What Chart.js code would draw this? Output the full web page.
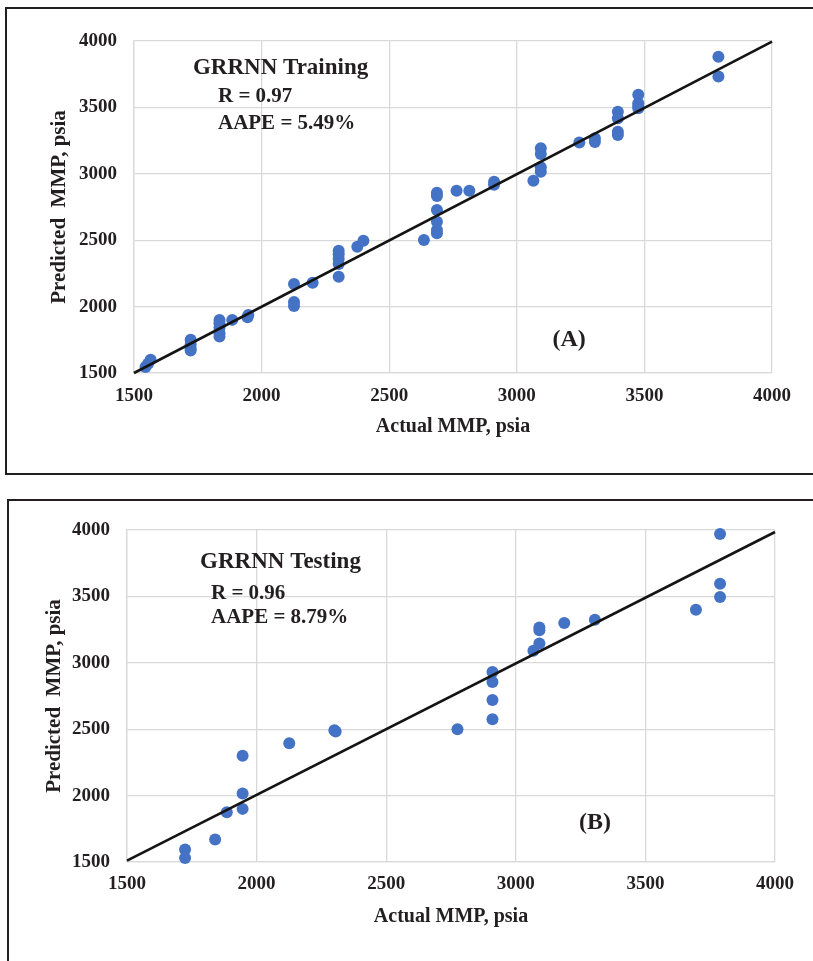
<!DOCTYPE html>
<html>
<head>
<meta charset="utf-8">
<script src="https://cdn.jsdelivr.net/npm/chart.js@4.4.1/dist/chart.umd.min.js"></script>
<style>
  html, body { margin: 0; padding: 0; background: #fff; }
  body { width: 813px; height: 961px; position: relative; overflow: hidden; }
  .frame { position: absolute; border: 2px solid #231f20; box-sizing: border-box; }
  .plot { position: absolute; left: 0; }
</style>
</head>
<body>
<div class="frame" style="left:5px; top:7px; width:820px; height:468px;"></div>
<div class="frame" style="left:7px; top:499px; width:820px; height:480px;"></div>
<canvas id="trainChart" class="plot" style="top:0px;"></canvas>
<canvas id="testChart" class="plot" style="top:485px;"></canvas>
<script>
// training set: actual vs predicted MMP (psia)
var trainActual = [
  1545, 1555, 1565,
  1722, 1722, 1722, 1722,
  1835, 1835, 1835, 1835, 1835, 1885, 1948, 1945,
  2127, 2127, 2127, 2200,
  2302, 2302, 2302, 2302, 2302, 2375, 2399,
  2636, 2687, 2687, 2687, 2687, 2687, 2687, 2764, 2814, 2911, 2911,
  3065, 3094, 3094, 3094, 3094, 3245, 3306, 3306,
  3396, 3396, 3396, 3396, 3476, 3476, 3476, 3476,
  3790, 3790
];
var trainPredicted = [
  1545, 1570, 1600,
  1750, 1715, 1685, 1670,
  1900, 1875, 1840, 1800, 1775, 1900, 1937, 1920,
  2170, 2035, 2005, 2180,
  2420, 2395, 2360, 2320, 2225, 2451, 2496,
  2502, 2858, 2833, 2727, 2639, 2577, 2552, 2873, 2873, 2940, 2918,
  2948, 3192, 3149, 3049, 3016, 3235, 3268, 3240,
  3468, 3418, 3317, 3292, 3596, 3531, 3510, 3493,
  3882, 3733
];

// testing set: actual vs predicted MMP (psia)
var testActual = [
  1724, 1724, 1840, 1885, 1946, 1946, 1946, 2126, 2300, 2305,
  2775, 2910, 2910, 2910, 2910, 3068, 3091, 3091, 3091,
  3187, 3305, 3695, 3788, 3788, 3788
];
var testPredicted = [
  1595, 1530, 1670, 1875, 2015, 1900, 2300, 2395, 2492, 2482,
  2500, 2930, 2855, 2720, 2575, 3090, 3145, 3265, 3245,
  3300, 3325, 3400, 3595, 3495, 3970
];

// fitted lines (end points)
var trainLineX = [1500, 4000];
var trainLineY = [1500, 3995];
var testLineX = [1500, 4000];
var testLineY = [1510, 3985];

var axisMin = 1500;
var axisMax = 4000;
var axisStep = 500;

var SERIF = '"Liberation Serif", "Times New Roman", serif';
var INK = '#231f20';

function toPoints(xs, ys) {
  var pts = [];
  for (var i = 0; i < xs.length; i++) pts.push({ x: xs[i], y: ys[i] });
  return pts;
}

// plain tick numbers, no thousands separator
function plainTick(v) { return String(v); }

// text labels placed in data coordinates
function notesPlugin(notes) {
  return {
    id: 'notes',
    afterDatasetsDraw: function (chart) {
      var ctx = chart.ctx;
      var sx = chart.scales.x, sy = chart.scales.y;
      ctx.save();
      ctx.fillStyle = INK;
      ctx.textBaseline = 'middle';
      notes.forEach(function (n) {
        ctx.font = 'bold ' + n.size + 'px ' + SERIF;
        ctx.textAlign = n.align || 'left';
        ctx.fillText(n.text, sx.getPixelForValue(n.x), sy.getPixelForValue(n.y));
      });
      ctx.restore();
    }
  };
}

function makeChart(id, cfg) {
  var canvas = document.getElementById(id);
  canvas.width = 813;
  canvas.height = cfg.height;
  return new Chart(canvas.getContext('2d'), {
    type: 'scatter',
    data: {
      datasets: [{
        type: 'line',
        label: 'fit',
        data: toPoints(cfg.lineX, cfg.lineY),
        borderColor: '#141414',
        borderWidth: 2.6,
        pointRadius: 0,
        fill: false,
        clip: false
      }, {
        label: 'MMP',
        data: toPoints(cfg.actual, cfg.predicted),
        backgroundColor: '#4472C4',
        borderWidth: 0,
        pointRadius: 6,
        pointHoverRadius: 6,
        clip: false
      }]
    },
    options: {
      responsive: false,
      animation: false,
      layout: { padding: { top: cfg.top, right: cfg.right, left: 0, bottom: 0 } },
      plugins: { legend: { display: false }, tooltip: { enabled: false } },
      scales: {
        x: {
          type: 'linear',
          min: axisMin, max: axisMax,
          afterFit: function (s) { s.height = cfg.xAxisHeight; },
          ticks: { stepSize: axisStep, padding: cfg.xTickPad, color: INK, callback: plainTick, font: { family: SERIF, size: 19, weight: 'bold' } },
          grid: { color: '#d9d9d9', lineWidth: 1.3, drawTicks: false },
          border: { color: '#d9d9d9', width: 1.3 },
          title: { display: true, text: 'Actual MMP, psia', color: INK, padding: { top: 0, bottom: cfg.xTitlePad }, font: { family: SERIF, size: 20, weight: 'bold' } }
        },
        y: {
          type: 'linear',
          min: axisMin, max: axisMax,
          afterFit: function (s) { s.width = cfg.yAxisWidth; },
          ticks: { stepSize: axisStep, padding: 17, color: INK, callback: plainTick, font: { family: SERIF, size: 19, weight: 'bold' } },
          grid: { color: '#d9d9d9', lineWidth: 1.3, drawTicks: false },
          border: { color: '#d9d9d9', width: 1.3 },
          title: { display: true, text: 'Predicted  MMP, psia', color: INK, padding: { top: cfg.yTitlePad, bottom: 0 }, font: { family: SERIF, size: 21, weight: 'bold' } }
        }
      }
    },
    plugins: [notesPlugin(cfg.notes)]
  });
}

makeChart('trainChart', {
  height: 480, top: 41, right: 41, yAxisWidth: 134, xAxisHeight: 107,
  xTickPad: 12, xTitlePad: 41, yTitlePad: 47,
  actual: trainActual, predicted: trainPredicted,
  lineX: trainLineX, lineY: trainLineY,
  notes: [
    { text: 'GRRNN Training', x: 1731, y: 3797, size: 23 },
    { text: 'R = 0.97', x: 1829, y: 3578, size: 21 },
    { text: 'AAPE = 5.49%', x: 1829, y: 3375, size: 21 },
    { text: '(A)', x: 3205, y: 1748, size: 24, align: 'center' }
  ]
});

makeChart('testChart', {
  height: 476, top: 45, right: 38, yAxisWidth: 127, xAxisHeight: 99,
  xTickPad: 11, xTitlePad: 32, yTitlePad: 42,
  actual: testActual, predicted: testPredicted,
  lineX: testLineX, lineY: testLineY,
  notes: [
    { text: 'GRRNN Testing', x: 1782, y: 3759, size: 23 },
    { text: 'R = 0.96', x: 1824, y: 3518, size: 21 },
    { text: 'AAPE = 8.79%', x: 1824, y: 3337, size: 21 },
    { text: '(B)', x: 3306, y: 1794, size: 24, align: 'center' }
  ]
});
</script>
</body>
</html>
